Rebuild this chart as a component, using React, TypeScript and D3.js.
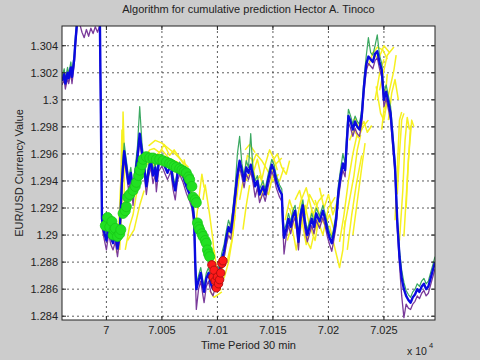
import React from "react";
import * as d3 from "d3";

// ---- data ----
const TITLE = "Algorithm for cumulative prediction Hector A. Tinoco";
const X_LABEL = "Time Period 30 min";
const Y_LABEL = "EUR/USD Currency Value";
const X_TICKS = [70000, 70050, 70100, 70150, 70200, 70250];
const X_TICK_LABELS = ["7", "7.005", "7.01", "7.015", "7.02", "7.025"];
const Y_TICKS = [1.284, 1.286, 1.288, 1.29, 1.292, 1.294, 1.296, 1.298, 1.3, 1.302, 1.304];
const Y_TICK_LABELS = ["1.284", "1.286", "1.288", "1.29", "1.292", "1.294", "1.296", "1.298", "1.3", "1.302", "1.304"];

const TIME = [
  69960, 69962, 69963, 69965, 69966, 69968, 69969, 69971, 69972, 69974,
  69976, 69978, 69980, 69982, 69984, 69986, 69988, 69990, 69992, 69994,
  69995, 69996, 69998, 70000, 70002, 70004, 70006, 70008, 70010, 70012,
  70014, 70016, 70018, 70020, 70022, 70024, 70026, 70028, 70030, 70032,
  70034, 70036, 70038, 70040, 70042, 70044, 70045, 70047, 70050, 70053,
  70055, 70058, 70060, 70062, 70064, 70066, 70069, 70072, 70075, 70077,
  70079, 70080, 70081, 70083, 70085, 70087, 70088, 70090, 70092, 70094,
  70096, 70098, 70100, 70102, 70104, 70106, 70108, 70110, 70112, 70114,
  70116, 70118, 70120, 70122, 70124, 70126, 70128, 70130, 70132, 70134,
  70136, 70138, 70141, 70143, 70146, 70149, 70151, 70153, 70156, 70158,
  70159, 70160, 70162, 70164, 70166, 70168, 70170, 70172, 70173, 70175,
  70177, 70179, 70181, 70183, 70185, 70187, 70189, 70192, 70195, 70197,
  70199, 70201, 70203, 70205, 70207, 70209, 70211, 70213, 70215, 70217,
  70218, 70220, 70222, 70224, 70226, 70228, 70230, 70232, 70234, 70236,
  70238, 70240, 70242, 70244, 70246, 70248, 70250, 70252, 70254, 70256,
  70258, 70260, 70262, 70264, 70266, 70268, 70270, 70272, 70274, 70276,
  70278, 70280, 70282, 70284, 70286, 70288, 70290, 70292, 70294, 70296,
];
const CLOSE = [
  1.3014, 1.3019, 1.3012, 1.302, 1.3016, 1.3024, 1.3017, 1.303, 1.3042, 1.3062,
  1.3072, 1.3068, 1.307, 1.3066, 1.3072, 1.3068, 1.307, 1.3066, 1.3072, 1.3068,
  1.299, 1.2912, 1.2902, 1.2896, 1.2906, 1.2898, 1.2894, 1.29, 1.289, 1.2902,
  1.294, 1.2962, 1.295, 1.2938, 1.2946, 1.293, 1.2945, 1.2958, 1.2975, 1.2962,
  1.295, 1.2936, 1.2948, 1.2955, 1.2944, 1.295, 1.294, 1.2952, 1.2956, 1.295,
  1.2946, 1.2952, 1.294, 1.2933, 1.2945, 1.295, 1.2944, 1.2936, 1.293, 1.2925,
  1.2912, 1.288, 1.286, 1.2866, 1.2872, 1.2862, 1.2858, 1.2868, 1.2872, 1.2864,
  1.286, 1.2866, 1.287, 1.2874, 1.2882, 1.2888, 1.2898, 1.2906, 1.2902, 1.2915,
  1.293, 1.2945, 1.2955, 1.2948, 1.294, 1.295, 1.2946, 1.2952, 1.2944, 1.2936,
  1.294, 1.293, 1.2936, 1.293, 1.2942, 1.2952, 1.2948, 1.294, 1.2933, 1.293,
  1.291, 1.2898, 1.2904, 1.2912, 1.2906, 1.2914, 1.2918, 1.2904, 1.2895, 1.2915,
  1.2922, 1.2908, 1.29, 1.2906, 1.2912, 1.2906, 1.2916, 1.291, 1.2918, 1.2912,
  1.2904, 1.2898, 1.2894, 1.2902, 1.2912, 1.2932, 1.2944, 1.2953, 1.2948, 1.2975,
  1.2988, 1.2984, 1.2978, 1.2984, 1.298, 1.2978, 1.2988, 1.301, 1.3026, 1.3032,
  1.303, 1.3028, 1.3034, 1.3036, 1.3028, 1.3022, 1.3, 1.3006, 1.2998, 1.299,
  1.297, 1.295, 1.291, 1.2884, 1.2868, 1.286, 1.2855, 1.2852, 1.285, 1.2854,
  1.2856, 1.286, 1.2858, 1.2862, 1.2864, 1.286, 1.2862, 1.2868, 1.2874, 1.288,
];
const HIGH = [
  1.3017, 1.3023, 1.3015, 1.3024, 1.3019, 1.3028, 1.302, 1.3034, 1.3046, 1.3066,
  1.3076, 1.3072, 1.3074, 1.307, 1.3076, 1.3072, 1.3074, 1.307, 1.3076, 1.3072,
  1.2994, 1.2916, 1.2907, 1.29, 1.291, 1.2902, 1.2898, 1.2904, 1.2894, 1.2908,
  1.2946, 1.2968, 1.2955, 1.2942, 1.295, 1.2935, 1.295, 1.2966, 1.2995, 1.2968,
  1.2954, 1.294, 1.2952, 1.296, 1.2948, 1.2954, 1.2944, 1.2956, 1.296, 1.2954,
  1.295, 1.2956, 1.2944, 1.2937, 1.2949, 1.2954, 1.2948, 1.294, 1.2934, 1.2929,
  1.2917, 1.2885, 1.2864, 1.287, 1.2876, 1.2866, 1.2862, 1.2872, 1.2876, 1.2868,
  1.2864, 1.287, 1.2874, 1.2878, 1.2887, 1.2893, 1.2903, 1.2911, 1.2906, 1.292,
  1.2936, 1.296, 1.2973, 1.2953, 1.2944, 1.2955, 1.295, 1.2975, 1.2948, 1.294,
  1.2944, 1.2934, 1.294, 1.2934, 1.2946, 1.2956, 1.2952, 1.2944, 1.2937, 1.2934,
  1.2915, 1.2903, 1.2908, 1.2916, 1.291, 1.2918, 1.2922, 1.2908, 1.2899, 1.2919,
  1.2926, 1.2912, 1.2904, 1.291, 1.2916, 1.291, 1.292, 1.2914, 1.2922, 1.2916,
  1.2908, 1.2902, 1.2898, 1.2906, 1.2917, 1.2937, 1.2949, 1.296, 1.2953, 1.2982,
  1.2993, 1.2988, 1.2982, 1.2988, 1.2984, 1.2982, 1.2993, 1.3015, 1.3032, 1.3046,
  1.3035, 1.3033, 1.304, 1.3048, 1.3033, 1.3027, 1.3005, 1.3011, 1.3003, 1.2995,
  1.2975, 1.2955, 1.2915, 1.2889, 1.2874, 1.2865, 1.2859, 1.2856, 1.2854, 1.2858,
  1.286, 1.2864, 1.2862, 1.2866, 1.2868, 1.2864, 1.2866, 1.2872, 1.2878, 1.2884,
];
const LOW = [
  1.3011, 1.3015, 1.3008, 1.3016, 1.3012, 1.302, 1.3012, 1.3026, 1.3038, 1.3058,
  1.3056, 1.305, 1.3046, 1.3052, 1.3047, 1.3053, 1.3049, 1.3054, 1.305, 1.3055,
  1.2986, 1.2906, 1.2897, 1.2889, 1.2901, 1.2893, 1.2889, 1.2895, 1.2884, 1.2897,
  1.2934, 1.2957, 1.2945, 1.2933, 1.2941, 1.2922, 1.294, 1.2953, 1.297, 1.2957,
  1.2945, 1.293, 1.2943, 1.295, 1.2938, 1.2945, 1.2932, 1.2947, 1.2951, 1.2945,
  1.2941, 1.2947, 1.2934, 1.2926, 1.294, 1.2945, 1.2939, 1.2931, 1.2925, 1.292,
  1.2906, 1.2872, 1.2845, 1.286, 1.2866, 1.2855, 1.285, 1.2862, 1.2866, 1.2858,
  1.2855, 1.2861, 1.2865, 1.2869, 1.2877, 1.2883, 1.2893, 1.29, 1.2897, 1.291,
  1.2925, 1.294, 1.295, 1.2943, 1.2935, 1.2945, 1.2941, 1.2947, 1.2939, 1.2928,
  1.2935, 1.2924, 1.2931, 1.2925, 1.2937, 1.2947, 1.2943, 1.2935, 1.2928, 1.2925,
  1.2904, 1.2886, 1.2899, 1.2907, 1.2901, 1.2909, 1.2913, 1.2899, 1.2889, 1.291,
  1.2917, 1.2903, 1.2895, 1.2901, 1.2907, 1.2901, 1.2911, 1.2905, 1.2913, 1.2907,
  1.2899, 1.2893, 1.2888, 1.2897, 1.2907, 1.2927, 1.2939, 1.2948, 1.2943, 1.297,
  1.2983, 1.2979, 1.2973, 1.2979, 1.2975, 1.2973, 1.2983, 1.3005, 1.3021, 1.3027,
  1.3025, 1.3023, 1.3029, 1.3031, 1.3023, 1.3017, 1.2995, 1.3001, 1.2993, 1.2985,
  1.2965, 1.2945, 1.2905, 1.2878, 1.2855, 1.2839, 1.2849, 1.2846, 1.2845, 1.2849,
  1.2851, 1.2855, 1.2853, 1.2857, 1.2859, 1.2855, 1.2857, 1.2863, 1.2869, 1.2875,
];

const PREDICTIONS: [number, number][][] = [
  [[70012, 1.2889], [70014, 1.2926], [70015, 1.2991], [70016, 1.2963], [70016, 1.2919]],
  [[70009, 1.2887], [70011, 1.2904], [70013, 1.2941], [70014, 1.2978]],
  [[70017, 1.2889], [70021, 1.2907], [70024, 1.2915], [70027, 1.293], [70030, 1.2941]],
  [[70019, 1.2896], [70025, 1.2904], [70030, 1.2922], [70034, 1.2933]],
  [[70034, 1.2956], [70039, 1.2963], [70043, 1.2964], [70048, 1.2961], [70052, 1.2967], [70057, 1.2959], [70061, 1.2963], [70066, 1.2957], [70070, 1.2952]],
  [[70036, 1.2952], [70043, 1.2957], [70050, 1.2963], [70057, 1.2956], [70064, 1.2954], [70071, 1.2948]],
  [[70038, 1.2966], [70044, 1.297], [70050, 1.2968], [70056, 1.2964], [70062, 1.296], [70068, 1.2955], [70074, 1.295]],
  [[70040, 1.295], [70046, 1.2955], [70053, 1.2958], [70059, 1.295], [70065, 1.2946], [70072, 1.294], [70078, 1.2935]],
  [[70070, 1.2956], [70073, 1.2944], [70077, 1.293], [70079, 1.2919]],
  [[70080, 1.2905], [70083, 1.2925], [70086, 1.2945], [70088, 1.2935]],
  [[70087, 1.2926], [70089, 1.2937], [70093, 1.2915], [70096, 1.2896], [70097, 1.2885]],
  [[70097, 1.2889], [70100, 1.287], [70103, 1.2859]],
  [[70093, 1.2859], [70097, 1.2854], [70104, 1.2858]],
  [[70104, 1.2874], [70107, 1.2889], [70111, 1.2904], [70115, 1.2922], [70118, 1.2933]],
  [[70109, 1.2881], [70113, 1.2896], [70116, 1.2915]],
  [[70106, 1.2868], [70110, 1.288], [70114, 1.29], [70117, 1.2925], [70120, 1.2945]],
  [[70120, 1.2926], [70124, 1.2944], [70127, 1.2959], [70131, 1.2956], [70134, 1.2941]],
  [[70123, 1.2904], [70126, 1.2922], [70129, 1.2937]],
  [[70125, 1.2963], [70129, 1.2967], [70134, 1.2961]],
  [[70126, 1.294], [70130, 1.295], [70135, 1.296], [70140, 1.2955], [70145, 1.2948], [70150, 1.294], [70155, 1.2945]],
  [[70133, 1.2948], [70136, 1.2956], [70140, 1.2941], [70143, 1.2952], [70147, 1.2963], [70151, 1.2956], [70154, 1.2948]],
  [[70134, 1.2937], [70138, 1.2944], [70143, 1.2933], [70147, 1.2944], [70152, 1.2952], [70158, 1.2957]],
  [[70138, 1.2925], [70142, 1.2935], [70146, 1.293], [70150, 1.2945], [70156, 1.294], [70160, 1.295]],
  [[70150, 1.2955], [70154, 1.296], [70158, 1.295], [70162, 1.2945], [70165, 1.2955]],
  [[70161, 1.2911], [70165, 1.2926], [70169, 1.2915], [70174, 1.29], [70179, 1.2922], [70183, 1.2907], [70188, 1.2896], [70192, 1.2915]],
  [[70163, 1.2896], [70167, 1.2907], [70171, 1.2889], [70176, 1.2911], [70180, 1.2893], [70185, 1.2919], [70190, 1.2904]],
  [[70170, 1.2926], [70174, 1.2933], [70179, 1.2915], [70183, 1.293], [70188, 1.2922]],
  [[70165, 1.292], [70170, 1.2905], [70175, 1.2925], [70180, 1.2935], [70186, 1.2915], [70191, 1.2925], [70196, 1.293]],
  [[70178, 1.29], [70184, 1.289], [70190, 1.2912], [70195, 1.29], [70200, 1.292], [70206, 1.2928]],
  [[70192, 1.2935], [70196, 1.292], [70200, 1.293], [70204, 1.2915], [70208, 1.2925]],
  [[70201, 1.2907], [70205, 1.2893], [70210, 1.2876], [70213, 1.2889], [70215, 1.2911]],
  [[70188, 1.2926], [70192, 1.2915], [70197, 1.2907], [70201, 1.2915], [70205, 1.2904]],
  [[70210, 1.2895], [70214, 1.2915], [70218, 1.294], [70222, 1.296], [70226, 1.2975]],
  [[70214, 1.2904], [70219, 1.2926], [70223, 1.2944], [70226, 1.2963], [70229, 1.2974]],
  [[70217, 1.2889], [70221, 1.2915], [70225, 1.2937], [70230, 1.2959]],
  [[70222, 1.29], [70226, 1.2925], [70230, 1.295], [70233, 1.2968]],
  [[70221, 1.2981], [70224, 1.2987], [70228, 1.2978], [70232, 1.2984], [70235, 1.2976], [70239, 1.2981]],
  [[70219, 1.297], [70223, 1.2978], [70227, 1.2972], [70231, 1.298], [70236, 1.2985]],
  [[70239, 1.3033], [70244, 1.3039], [70249, 1.3037], [70253, 1.303]],
  [[70236, 1.3025], [70240, 1.3035], [70245, 1.303], [70250, 1.304], [70255, 1.3035]],
  [[70246, 1.3007], [70250, 1.3022], [70253, 1.3033], [70257, 1.3037], [70259, 1.3039]],
  [[70251, 1.2993], [70255, 1.3007], [70259, 1.3022], [70261, 1.3033]],
  [[70242, 1.3], [70246, 1.3019], [70250, 1.303]],
  [[70248, 1.2978], [70251, 1.3], [70253, 1.3019]],
  [[70243, 1.301], [70247, 1.299], [70250, 1.2985], [70253, 1.3], [70256, 1.2995]],
  [[70254, 1.2985], [70257, 1.3005], [70260, 1.3015], [70263, 1.3]],
  [[70260, 1.2911], [70262, 1.2948], [70264, 1.2985], [70266, 1.2991]],
  [[70262, 1.293], [70264, 1.296], [70266, 1.2985], [70268, 1.299]],
  [[70264, 1.2896], [70267, 1.2933], [70269, 1.297], [70271, 1.2987], [70273, 1.2978]],
  [[70268, 1.2899], [70271, 1.2941], [70274, 1.2981]],
  [[70270, 1.292], [70272, 1.2955], [70275, 1.2985], [70277, 1.298]],
];

const GREEN_HITS: [number, number][] = [
  [69999, 1.2907], [70001, 1.2913], [70003, 1.2906], [70005, 1.291], [70006, 1.29], [70007, 1.2904],
  [70008, 1.2905], [70010, 1.2899], [70012, 1.2901], [70013, 1.2904], [70015, 1.2916], [70017, 1.2918],
  [70018, 1.2921], [70019, 1.2928], [70021, 1.293], [70024, 1.2933], [70026, 1.2936], [70027, 1.2939],
  [70029, 1.2944], [70030, 1.2948], [70032, 1.2952], [70033, 1.2956], [70036, 1.2958], [70039, 1.2957],
  [70042, 1.2957], [70045, 1.2956], [70048, 1.2956], [70051, 1.2955], [70054, 1.2954], [70057, 1.2953],
  [70059, 1.2952], [70061, 1.2951], [70063, 1.295], [70066, 1.2949], [70068, 1.2948], [70070, 1.2947],
  [70072, 1.2946], [70074, 1.2943], [70075, 1.2941], [70077, 1.2936], [70078, 1.2928], [70080, 1.2926],
  [70081, 1.2924], [70082, 1.2909], [70083, 1.2906], [70084, 1.2904], [70086, 1.2901], [70087, 1.2899],
  [70089, 1.2896], [70090, 1.2894], [70091, 1.2889], [70092, 1.2886], [70093, 1.2884],
];
const RED_HITS: [number, number][] = [
  [70095, 1.2878], [70096, 1.2869], [70097, 1.2874], [70098, 1.2866], [70099, 1.2861], [70100, 1.2869],
  [70101, 1.2864], [70102, 1.2867], [70103, 1.2872], [70104, 1.2879], [70105, 1.2881],
];

// ---- layout ----
const W = 480, H = 360;
const L = 62, R = 435, T = 26, B = 320;

export default function App() {
  const x = d3.scaleLinear().domain([69960, 70296]).range([L, R]);
  const y = d3.scaleLinear().domain([1.28372, 1.30546]).range([B, T]);
  const line = d3.line<[number, number]>().x((d) => x(d[0])).y((d) => y(d[1]));
  const series = (vals: number[]) => line(TIME.map((t, i) => [t, vals[i]] as [number, number])) || "";
  const font = "'Liberation Sans', Arial, Helvetica, sans-serif";
  const tk = 4;

  return (
    <svg width={W} height={H} style={{ position: "fixed", left: 0, top: 0 }} fontFamily={font}>
      <defs>
        <clipPath id="plotclip">
          <rect x={L} y={T} width={R - L} height={B - T} />
        </clipPath>
      </defs>
      <rect x={0} y={0} width={W} height={H} fill="#cccccc" />
      <rect x={L} y={T} width={R - L} height={B - T} fill="#ffffff" />

      {/* grid */}
      {X_TICKS.map((v) => (
        <line key={"gx" + v} x1={x(v)} x2={x(v)} y1={T} y2={B} stroke="#333" strokeWidth={0.8} strokeDasharray="2,3" />
      ))}
      {Y_TICKS.map((v) => (
        <line key={"gy" + v} x1={L} x2={R} y1={y(v)} y2={y(v)} stroke="#333" strokeWidth={0.8} strokeDasharray="2,3" />
      ))}

      <g clipPath="url(#plotclip)" fill="none" strokeLinejoin="round">
        {PREDICTIONS.map((p, i) => (
          <path key={"p" + i} d={line(p) || ""} stroke="#f6f020" strokeWidth={1.5} />
        ))}
        <path d={series(HIGH)} stroke="#3aa860" strokeWidth={1.2} />
        <path d={series(LOW)} stroke="#7a3a9a" strokeWidth={1.3} />
        <path d={series(CLOSE)} stroke="#0a0ae0" strokeWidth={2.4} />
        {GREEN_HITS.map((d, i) => (
          <circle key={"g" + i} cx={x(d[0])} cy={y(d[1])} r={5} fill="#22e022" stroke="#18c818" strokeWidth={0.8} />
        ))}
        {RED_HITS.map((d, i) => (
          <circle key={"r" + i} cx={x(d[0])} cy={y(d[1])} r={4.2} fill="#ff1a1a" stroke="#b01010" strokeWidth={1} />
        ))}
      </g>

      {/* axes box */}
      <rect x={L} y={T} width={R - L} height={B - T} fill="none" stroke="#222" strokeWidth={1} />
      {X_TICKS.map((v) => (
        <g key={"tx" + v}>
          <line x1={x(v)} x2={x(v)} y1={B} y2={B - tk} stroke="#222" />
          <line x1={x(v)} x2={x(v)} y1={T} y2={T + tk} stroke="#222" />
        </g>
      ))}
      {Y_TICKS.map((v) => (
        <g key={"ty" + v}>
          <line x1={L} x2={L + tk} y1={y(v)} y2={y(v)} stroke="#222" />
          <line x1={R} x2={R - tk} y1={y(v)} y2={y(v)} stroke="#222" />
        </g>
      ))}

      {/* tick labels */}
      {X_TICKS.map((v, i) => (
        <text key={"lx" + v} x={x(v)} y={334} fontSize={11} textAnchor="middle" fill="#222">
          {X_TICK_LABELS[i]}
        </text>
      ))}
      {Y_TICKS.map((v, i) => (
        <text key={"ly" + v} x={58} y={y(v) + 4} fontSize={11} textAnchor="end" fill="#222">
          {Y_TICK_LABELS[i]}
        </text>
      ))}

      {/* exponent */}
      <text x={407} y={355} fontSize={10.5} fill="#222">x 10</text>
      <text x={429} y={348} fontSize={7.5} fill="#222">4</text>

      {/* labels */}
      <text x={(L + R) / 2} y={13} fontSize={11} textAnchor="middle" fill="#222">{TITLE}</text>
      <text x={(L + R) / 2} y={349} fontSize={11} textAnchor="middle" fill="#222">{X_LABEL}</text>
      <text transform={`translate(23,${(T + B) / 2}) rotate(-90)`} fontSize={11} textAnchor="middle" fill="#222">
        {Y_LABEL}
      </text>
    </svg>
  );
}
